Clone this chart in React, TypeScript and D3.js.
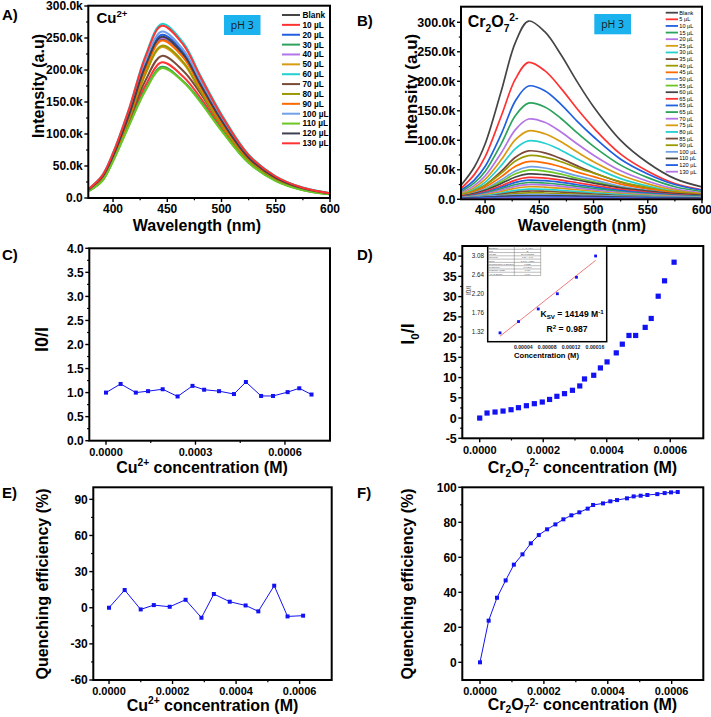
import React from 'react';
import * as d3 from 'd3';

const FONT = "'Liberation Sans', Arial, Helvetica, sans-serif";
const BLUE = '#1212f2';

// ---------------- Panel A : Cu2+ spectra ----------------
const wavelengthsA = [378, 390, 400, 415, 430, 445, 465, 480, 500, 525, 550, 575, 600];
const labelsA = ['Blank', '10 µL', '20 µL', '30 µL', '40 µL', '50 µL', '60 µL', '70 µL', '80 µL', '90 µL', '100 µL', '110 µL', '120 µL', '130 µL'];
const colorsA = ['#454545', '#ff3333', '#1f5fe0', '#2ba35c', '#b374e6', '#d99b12', '#22d0d0', '#7a4a3a', '#9a9a00', '#ff6a00', '#6fa0e8', '#6cc624', '#3f4050', '#ff3333'];
// intensities in thousands (k)
const spectraA = [
  [13.6, 32.2, 64.5, 129, 203, 248, 221, 176, 119, 62, 31, 14.9, 6.9],
  [11.7, 27.6, 60, 118, 176, 212, 189, 158, 110, 57, 28, 12.7, 5.9],
  [14.0, 33.2, 66.3, 133, 209, 255, 227, 181, 122, 64, 32, 15.3, 7.1],
  [11.3, 26.7, 58, 115, 170, 205, 182, 153, 106, 55, 27, 12.3, 5.7],
  [13.8, 32.5, 65, 130, 205, 250, 223, 178, 120, 62.5, 31.3, 15, 7],
  [13, 30.7, 61.4, 123, 194, 236, 210, 168, 113, 59, 29.5, 14.2, 6.6],
  [15, 35.4, 70.7, 141, 223, 272, 242, 193, 131, 68, 34, 16.3, 7.6],
  [12.2, 28.9, 62, 122, 184, 222, 198, 165, 114, 59, 29, 13.3, 6.2],
  [13.1, 30.9, 61.9, 124, 195, 238, 212, 169, 114, 59.5, 29.8, 14.3, 6.7],
  [13.5, 32, 64, 128, 202, 246, 219, 175, 118, 61.5, 30.8, 14.8, 6.9],
  [14.3, 33.8, 67.6, 135, 213, 260, 231, 185, 125, 65, 32.5, 15.6, 7.3],
  [11.2, 26.4, 57.5, 114, 168, 203, 181, 151, 105, 55, 26.5, 12.2, 5.7],
  [13.9, 32.8, 65.5, 131, 207, 252, 224, 179, 121, 63, 31.5, 15.1, 7.1],
  [14.8, 35, 70, 140, 221, 269, 239, 191, 129, 67, 33.6, 16.1, 7.5],
];

// ---------------- Panel B : Cr2O7 2- spectra ----------------
const wavelengthsB = [378, 390, 400, 415, 428, 440, 455, 470, 485, 500, 525, 550, 575, 600];
const labelsB = ['Blank', '5 µL', '10 µL', '15 µL', '20 µL', '25 µL', '30 µL', '35 µL', '40 µL', '45 µL', '50 µL', '55 µL', '60 µL', '65 µL', '65 µL', '65 µL', '70 µL', '75 µL', '80 µL', '85 µL', '90 µL', '100 µL', '110 µL', '120 µL', '130 µL'];
const colorsB = ['#454545', '#ff3333', '#1f5fe0', '#2ba35c', '#b374e6', '#d99b12', '#22d0d0', '#7a4a3a', '#9a9a00', '#ff6a00', '#6fa0e8', '#6cc624', '#454545', '#ff3333', '#1f5fe0', '#2ba35c', '#b374e6', '#d99b12', '#22d0d0', '#7a4a3a', '#9a9a00', '#6fa0e8', '#454545', '#1f5fe0', '#b374e6'];
const spectraB = [
  [24.2, 54.4, 93.6, 184, 266, 302, 284, 245, 199, 157, 100, 62, 35, 21],
  [18.6, 41.8, 71.9, 141.5, 204, 232, 218, 188, 153, 121, 76.6, 47.6, 26.7, 16.2],
  [15.4, 32.6, 55.7, 111, 167, 192, 184, 161, 132, 106, 68, 43, 25, 15.4],
  [13, 27.7, 47.3, 94.5, 142, 163, 156.5, 137, 112.5, 89.7, 57.9, 36.7, 21.2, 13],
  [10.9, 23.1, 39.4, 78.9, 118, 136, 130.6, 114, 93.8, 74.8, 48.3, 30.6, 17.7, 10.9],
  [9.3, 19.7, 33.6, 67.3, 101, 116, 111, 97.4, 80, 63.8, 41.2, 26.1, 15.1, 9.3],
  [7.9, 16.8, 28.7, 57.4, 86, 99, 95, 83.2, 68.3, 54.5, 35.1, 22.3, 12.9, 7.9],
  [6.6, 13.9, 23.8, 47.6, 71.3, 82, 78.7, 68.9, 56.6, 45.1, 29.1, 18.5, 10.7, 6.6],
  [7.4, 14.8, 23.7, 44.4, 64.8, 74, 71.4, 63.6, 53.3, 44.4, 29.6, 20, 12.6, 8.9],
  [6.4, 12.8, 20.5, 38.4, 56, 64, 61.8, 55, 46.1, 38.4, 25.6, 17.3, 10.9, 7.7],
  [5.5, 11, 17.6, 33, 48.1, 55, 53.1, 47.3, 39.6, 33, 22, 14.9, 9.4, 6.6],
  [5, 9.9, 15.8, 29.7, 43.3, 49.5, 47.8, 42.6, 35.6, 29.7, 19.8, 13.4, 8.4, 5.9],
  [5.2, 9.5, 15.1, 26.7, 37.8, 43, 41.7, 37.8, 32.7, 27.5, 19.4, 13.8, 9.5, 6.9],
  [4.4, 8.1, 13, 22.9, 32.6, 37, 35.9, 32.6, 28.1, 23.7, 16.7, 11.8, 8.1, 5.9],
  [3.9, 7.2, 11.4, 20.2, 28.6, 32.5, 31.5, 28.6, 24.7, 20.8, 14.6, 10.4, 7.2, 5.2],
  [3.4, 6.3, 10, 17.7, 25.1, 28.5, 27.6, 25.1, 21.7, 18.2, 12.8, 9.1, 6.3, 4.6],
  [3, 5.5, 8.8, 15.5, 22, 25, 24.3, 22, 19, 16, 11.3, 8, 5.5, 4],
  [2.6, 4.7, 7.5, 13.2, 18.7, 21.3, 20.7, 18.7, 16.2, 13.6, 9.6, 6.8, 4.7, 3.4],
  [2.1, 3.8, 6.1, 10.7, 15.2, 17.3, 16.8, 15.2, 13.1, 11.1, 7.8, 5.5, 3.8, 2.8],
  [1.7, 3.1, 4.9, 8.7, 12.3, 14, 13.6, 12.3, 10.6, 9, 6.3, 4.5, 3.1, 2.2],
  [1.3, 2.4, 3.9, 6.8, 9.7, 11, 10.7, 9.7, 8.4, 7, 5, 3.5, 2.4, 1.8],
  [2.4, 3.6, 4.8, 6.4, 7.6, 8, 8, 7.6, 7, 6.4, 5.2, 4.2, 3.4, 2.8],
  [1.8, 2.7, 3.6, 4.8, 5.7, 6, 6, 5.7, 5.3, 4.8, 3.9, 3.1, 2.5, 2.1],
  [1.1, 1.7, 2.3, 3, 3.6, 3.8, 3.8, 3.6, 3.3, 3, 2.5, 2, 1.6, 1.3],
  [0.5, 0.8, 1.1, 1.4, 1.7, 1.8, 1.8, 1.7, 1.6, 1.4, 1.2, 0.9, 0.8, 0.6],
];
const spectraTicksX = [400, 450, 500, 550, 600];
const spectraMinorX = [425, 475, 525, 575];
const spectraTicksY = [0, 50000, 100000, 150000, 200000, 250000, 300000];
const spectraMinorY = [25000, 75000, 125000, 175000, 225000, 275000];

// ---------------- Panel C : Cu2+ I0/I ----------------
const concC = [0, 0.000049, 0.0001, 0.000141, 0.00019, 0.00024, 0.00029, 0.000329, 0.000379, 0.000429, 0.000469, 0.00052, 0.00056, 0.000609, 0.000648, 0.000689];
const ratioC = [1.0, 1.18, 1.0, 1.03, 1.07, 0.92, 1.14, 1.06, 1.03, 0.97, 1.22, 0.93, 0.93, 1.01, 1.09, 0.96];
const ticksCX = [0, 0.0003, 0.0006];
const minorCX = [0.00015, 0.00045];
const ticksCY = [0, 0.5, 1, 1.5, 2, 2.5, 3, 3.5, 4];
const minorCY = [0.25, 0.75, 1.25, 1.75, 2.25, 2.75, 3.25, 3.75];

// ---------------- Panel D : Cr2O7 I0/I ----------------
const concD = [0, 0.0000231, 0.0000483, 0.0000735, 0.0000987, 0.000122, 0.000147, 0.000172, 0.000197, 0.00022, 0.000243, 0.000267, 0.000292, 0.000315, 0.00033, 0.000359, 0.00038, 0.000401, 0.00043, 0.000449, 0.00047, 0.000491, 0.000521, 0.00054, 0.000562, 0.000582, 0.000612];
const ratioD = [0, 1.24, 1.49, 1.73, 2.06, 2.56, 3.05, 3.55, 3.96, 4.6, 5.37, 6.03, 6.86, 7.93, 9.66, 10.57, 12.38, 13.87, 16.1, 18.25, 20.4, 20.4, 22.4, 24.6, 30.1, 33.9, 38.5];
const ticksDX = [0, 0.0002, 0.0004, 0.0006];
const minorDX = [0.0001, 0.0003, 0.0005];
const ticksDY = [-5, 0, 5, 10, 15, 20, 25, 30, 35, 40];
const minorDY = [-2.5, 2.5, 7.5, 12.5, 17.5, 22.5, 27.5, 32.5, 37.5];

// inset (Stern-Volmer linear part)
const insetConc = [0.000001, 0.000032, 0.000065, 0.000097, 0.000129, 0.000161];
const insetRatio = [1.30, 1.56, 1.85, 2.20, 2.58, 3.07];
const insetTicksX = [0.00004, 0.00008, 0.00012, 0.00016];
const insetTicksY = [1.32, 1.76, 2.20, 2.64, 3.08];
const insetTable = [
  ['Equation', 'y = a + b*x'], ['Plot', 'B'], ['Weight', 'No Weighting'], ['Intercept', '1.21 ± 0.06'],
  ['Slope', '14149 ± 1270'], ['Residual Sum of Squares', '0.0258'], ["Pearson's r", '0.99348'],
  ['R-Square (COD)', '0.987'], ['Adj. R-Square', '0.984'],
];

// ---------------- Panel E : Cu2+ quenching efficiency ----------------
const concE = [0, 0.0000493, 0.0000997, 0.000141, 0.000191, 0.000241, 0.000291, 0.00033, 0.00038, 0.00043, 0.00047, 0.00052, 0.000562, 0.000611];
const qeE = [0, 14.7, -1.4, 2.2, 0.8, 6.6, -8.3, 11.4, 5.0, 1.9, -3.0, 18.3, -7.2, -6.6];
const ticksEY = [-60, -30, 0, 30, 60, 90];
const minorEY = [-45, -15, 15, 45, 75];

// ---------------- Panel F : Cr2O7 quenching efficiency ----------------
const concF = [0, 0.0000271, 0.0000532, 0.0000803, 0.000106, 0.000133, 0.000159, 0.000184, 0.00021, 0.000236, 0.000261, 0.000286, 0.000311, 0.000337, 0.000354, 0.000385, 0.000408, 0.000429, 0.00046, 0.000481, 0.000503, 0.000524, 0.000555, 0.000578, 0.000598, 0.000619];
const qeF = [0, 23.8, 36.9, 46.8, 55.8, 61.7, 68, 72.7, 76, 78.8, 81.7, 84, 85.7, 87.8, 89.9, 90.8, 92, 92.7, 93.7, 94.8, 95.2, 95.6, 96.1, 96.7, 97.1, 97.3];
const ticksFY = [0, 20, 40, 60, 80, 100];
const minorFY = [10, 30, 50, 70, 90];

type Box = { l: number; r: number; t: number; b: number };
type Part = [string, 'n' | 'sub' | 'sup'];

function rich(parts: Part[], fs: number, subShift = 0.3, supShift = 0.38) {
  let cur = 0;
  return parts.map(([t, k], i) => {
    const target = k === 'sup' ? -fs * supShift : k === 'sub' ? fs * subShift : 0;
    const dy = target - cur;
    cur = target;
    return (
      <tspan key={i} dy={dy} fontSize={k === 'n' ? fs : fs * 0.64}>
        {t}
      </tspan>
    );
  });
}

const cuParts: Part[] = [['Cu', 'n'], ['2+', 'sup'], [' concentration (M)', 'n']];
const crParts: Part[] = [['Cr', 'n'], ['2', 'sub'], ['O', 'n'], ['7', 'sub'], ['2-', 'sup'], [' concentration (M)', 'n']];

function Axes(props: {
  box: Box; x: any; y: any; xMajor: number[]; xMinor: number[]; yMajor: number[]; yMinor: number[];
  xFmt: (v: number) => string; yFmt: (v: number) => string; xfs: number; yfs: number; xOff?: number;
}) {
  const { box, x, y, xMajor, xMinor, yMajor, yMinor, xFmt, yFmt, xfs, yfs } = props;
  const xOff = props.xOff ?? 15.3;
  return (
    <g>
      {yMajor.map((v) => (
        <g key={'ym' + v}>
          <line x1={box.l - 4} x2={box.l} y1={y(v)} y2={y(v)} stroke="#000" strokeWidth={1.4} />
          <text x={box.l - 5.5} y={y(v)} dy="0.36em" textAnchor="end" fontSize={yfs} fontWeight="bold">
            {yFmt(v)}
          </text>
        </g>
      ))}
      {yMinor.map((v) => (
        <line key={'yn' + v} x1={box.l - 2.2} x2={box.l} y1={y(v)} y2={y(v)} stroke="#000" strokeWidth={1.2} />
      ))}
      {xMajor.map((v) => (
        <g key={'xm' + v}>
          <line x1={x(v)} x2={x(v)} y1={box.b} y2={box.b + 4} stroke="#000" strokeWidth={1.4} />
          <text x={x(v)} y={box.b + xOff} textAnchor="middle" fontSize={xfs} fontWeight="bold">
            {xFmt(v)}
          </text>
        </g>
      ))}
      {xMinor.map((v) => (
        <line key={'xn' + v} x1={x(v)} x2={x(v)} y1={box.b} y2={box.b + 2.2} stroke="#000" strokeWidth={1.2} />
      ))}
      <rect x={box.l} y={box.t} width={box.r - box.l} height={box.b - box.t} fill="none" stroke="#000" strokeWidth={2} />
    </g>
  );
}

function YLabel({ x, y, fs, children }: { x: number; y: number; fs: number; children: any }) {
  return (
    <text transform={`translate(${x},${y}) rotate(-90)`} textAnchor="middle" fontSize={fs} fontWeight="bold">
      {children}
    </text>
  );
}

const kFmt = (v: number) => (v === 0 ? '0.0' : (v / 1000).toFixed(1) + 'k');

export default function App() {
  // ---- A ----
  const boxA: Box = { l: 88.3, r: 330, t: 5.7, b: 198 };
  const xA = d3.scaleLinear().domain([377.2, 600]).range([boxA.l, boxA.r]);
  const yA = d3.scaleLinear().domain([0, 300000]).range([198, 6]);
  const lineA = d3.line<number>().x((_, i) => xA(wavelengthsA[i])).y((d) => yA(d * 1000)).curve(d3.curveCatmullRom.alpha(0.5));

  // ---- B ----
  const boxB: Box = { l: 461, r: 702, t: 6.7, b: 199.3 };
  const xB = d3.scaleLinear().domain([377.8, 600]).range([boxB.l, boxB.r]);
  const yB = d3.scaleLinear().domain([0, 326400]).range([boxB.b, boxB.t]);
  const lineB = d3.line<number>().x((_, i) => xB(wavelengthsB[i])).y((d) => yB(d * 1000)).curve(d3.curveCatmullRom.alpha(0.5));

  // ---- C ----
  const boxC: Box = { l: 89.3, r: 330, t: 248.3, b: 440.7 };
  const xC = d3.scaleLinear().domain([-0.000056, 0.000751]).range([boxC.l, boxC.r]);
  const yC = d3.scaleLinear().domain([0, 4]).range([boxC.b, boxC.t]);
  const lineC = d3.line<number>().x((_, i) => xC(concC[i])).y((d) => yC(d));

  // ---- D ----
  const boxD: Box = { l: 462.3, r: 703.3, t: 246, b: 438.3 };
  const xD = d3.scaleLinear().domain([-0.0000548, 0.000704]).range([boxD.l, boxD.r]);
  const yD = d3.scaleLinear().domain([-5, 42.5]).range([boxD.b, boxD.t]);

  // inset
  const boxI: Box = { l: 487.7, r: 606.7, t: 246, b: 341.7 };
  const xI = d3.scaleLinear().domain([-0.0000196, 0.0001796]).range([boxI.l, boxI.r]);
  const yI = d3.scaleLinear().domain([1.096, 3.3]).range([boxI.b, boxI.t]);
  const mx = d3.mean(insetConc) as number;
  const my = d3.mean(insetRatio) as number;
  const sxy = d3.sum(insetConc.map((c, i) => (c - mx) * (insetRatio[i] - my)));
  const sxx = d3.sum(insetConc.map((c) => (c - mx) * (c - mx)));
  const slope = sxy / sxx;
  const icpt = my - slope * mx;
  const fitX = [insetConc[0], insetConc[insetConc.length - 1]];

  // ---- E ----
  const boxE: Box = { l: 93.3, r: 331.7, t: 487.3, b: 680 };
  const xE = d3.scaleLinear().domain([-0.0000495, 0.000701]).range([boxE.l, boxE.r]);
  const yE = d3.scaleLinear().domain([-60, 100]).range([boxE.b, boxE.t]);
  const lineE = d3.line<number>().x((_, i) => xE(concE[i])).y((d) => yE(d));

  // ---- F ----
  const boxF: Box = { l: 462.3, r: 703.3, t: 487.3, b: 680 };
  const xF = d3.scaleLinear().domain([-0.0000554, 0.000699]).range([boxF.l, boxF.r]);
  const yF = d3.scaleLinear().domain([-10.1, 100]).range([boxF.b, boxF.t]);
  const lineF = d3.line<number>().x((_, i) => xF(concF[i])).y((d) => yF(d));

  const f4 = (v: number) => v.toFixed(4);

  return (
    <svg width={711} height={717} style={{ position: 'absolute', left: 0, top: 0, background: '#fff' }} fontFamily={FONT}>
      <defs>
        <clipPath id="clipA"><rect x={boxA.l} y={boxA.t} width={boxA.r - boxA.l} height={boxA.b - boxA.t} /></clipPath>
        <clipPath id="clipB"><rect x={boxB.l} y={boxB.t} width={boxB.r - boxB.l} height={boxB.b - boxB.t} /></clipPath>
      </defs>
      <rect x={0} y={0} width={711} height={717} fill="#fff" />

      {/* ================= A ================= */}
      <g clipPath="url(#clipA)">
        {spectraA.map((s, i) => (
          <path key={i} d={lineA(s) || ''} fill="none" stroke={colorsA[i]} strokeWidth={2} />
        ))}
      </g>
      <Axes box={boxA} x={xA} y={yA} xMajor={spectraTicksX} xMinor={spectraMinorX} yMajor={spectraTicksY} yMinor={spectraMinorY}
        xFmt={(v) => String(v)} yFmt={kFmt} xfs={12} yfs={12} xOff={14.8} />
      <text x={2} y={20} fontSize={15} fontWeight="bold">A)</text>
      <text x={96.5} y={22.7} fontSize={15} fontWeight="bold">{rich([['Cu', 'n'], ['2+', 'sup']], 15)}</text>
      <rect x={224} y={15} width={36.5} height={20} fill="#1cb2ee" />
      <text x={242.2} y={28.8} fontSize={10.5} textAnchor="middle" fill="#1a1a1a" fontFamily="'Open Sans', 'Liberation Sans', sans-serif">pH 3</text>
      {labelsA.map((lab, i) => (
        <g key={lab + i}>
          <line x1={282} x2={300} y1={15 + i * 9.87} y2={15 + i * 9.87} stroke={colorsA[i]} strokeWidth={2} />
          <text x={302.5} y={15 + i * 9.87} dy="0.35em" fontSize={8.3} fontWeight="bold">{lab}</text>
        </g>
      ))}
      <YLabel x={43.5} y={86} fs={16}>Intensity (a.u)</YLabel>
      <text x={197} y={230.5} textAnchor="middle" fontSize={16} fontWeight="bold">Wavelength (nm)</text>

      {/* ================= B ================= */}
      <g clipPath="url(#clipB)">
        {spectraB.map((s, i) => (
          <path key={i} d={lineB(s) || ''} fill="none" stroke={colorsB[i]} strokeWidth={1.7} />
        ))}
      </g>
      <Axes box={boxB} x={xB} y={yB} xMajor={spectraTicksX} xMinor={spectraMinorX} yMajor={spectraTicksY} yMinor={spectraMinorY}
        xFmt={(v) => String(v)} yFmt={kFmt} xfs={12} yfs={12.5} xOff={14.2} />
      <text x={357} y={25.5} fontSize={15} fontWeight="bold">B)</text>
      <text x={467.7} y={26.7} fontSize={16} fontWeight="bold">{rich([['Cr', 'n'], ['2', 'sub'], ['O', 'n'], ['7', 'sub'], ['2-', 'sup']], 16)}</text>
      <rect x={594.3} y={14} width={36.7} height={20.3} fill="#1cb2ee" />
      <text x={612.6} y={28} fontSize={10.5} textAnchor="middle" fill="#1a1a1a" fontFamily="'Open Sans', 'Liberation Sans', sans-serif">pH 3</text>
      {labelsB.map((lab, i) => (
        <g key={lab + i}>
          <line x1={665.7} x2={678} y1={12.7 + i * 6.625} y2={12.7 + i * 6.625} stroke={colorsB[i]} strokeWidth={1.8} />
          <text x={679.3} y={12.7 + i * 6.625} dy="0.35em" fontSize={5.6}>{lab}</text>
        </g>
      ))}
      <YLabel x={416.5} y={89} fs={17}>Intensity (a.u)</YLabel>
      <text x={582} y={231} textAnchor="middle" fontSize={16} fontWeight="bold">Wavelength (nm)</text>

      {/* ================= C ================= */}
      <path d={lineC(ratioC) || ''} fill="none" stroke={BLUE} strokeWidth={1} />
      {ratioC.map((v, i) => (
        <rect key={i} x={xC(concC[i]) - 2} y={yC(v) - 2} width={4} height={4} fill={BLUE} />
      ))}
      <Axes box={boxC} x={xC} y={yC} xMajor={ticksCX} xMinor={minorCX} yMajor={ticksCY} yMinor={minorCY}
        xFmt={f4} yFmt={(v) => v.toFixed(1)} xfs={11} yfs={12} />
      <text x={2} y={260} fontSize={15} fontWeight="bold">C)</text>
      <YLabel x={48} y={339.5} fs={18}>I0/I</YLabel>
      <text x={202} y={472.5} textAnchor="middle" fontSize={16} fontWeight="bold">{rich(cuParts, 16)}</text>

      {/* ================= D ================= */}
      {ratioD.map((v, i) => (
        <rect key={i} x={xD(concD[i]) - 2.6} y={yD(v) - 2.6} width={5.2} height={5.2} fill={BLUE} />
      ))}
      <Axes box={boxD} x={xD} y={yD} xMajor={ticksDX} xMinor={minorDX} yMajor={ticksDY} yMinor={minorDY}
        xFmt={f4} yFmt={(v) => String(v)} xfs={11} yfs={12.5} />
      {/* inset */}
      <rect x={boxI.l} y={boxI.t} width={boxI.r - boxI.l} height={boxI.b - boxI.t} fill="#fff" stroke="#000" strokeWidth={1.5} />
      <line x1={xI(fitX[0])} x2={xI(fitX[1])} y1={yI(icpt + slope * fitX[0])} y2={yI(icpt + slope * fitX[1])} stroke="#f07a7a" strokeWidth={1} />
      {insetRatio.map((v, i) => (
        <rect key={i} x={xI(insetConc[i]) - 1.4} y={yI(v) - 1.4} width={2.8} height={2.8} fill={BLUE} />
      ))}
      {insetTicksY.map((v) => (
        <text key={v} x={484} y={yI(v)} dy="0.35em" textAnchor="end" fontSize={6.3} fill="#222">{v.toFixed(2)}</text>
      ))}
      {insetTicksX.map((v) => (
        <text key={v} x={xI(v)} y={349} textAnchor="middle" fontSize={5.2} fontWeight="bold" fill="#222">{v.toFixed(5)}</text>
      ))}
      <text transform="translate(470.5,290.5) rotate(-90)" textAnchor="middle" fontSize={6.5} fill="#222">I0/I</text>
      <text x={546.5} y={357.5} textAnchor="middle" fontSize={7.6} fontWeight="bold">Concentration (M)</text>
      <g>
        {insetTable.map((row, i) => {
          const ty = 246 + i * 3.28;
          return (
            <g key={i}>
              <line x1={488.3} x2={540.7} y1={ty + 3.28} y2={ty + 3.28} stroke="#555" strokeWidth={0.4} />
              <text x={489} y={ty + 2.5} fontSize={2.2} fill="#444">{row[0]}</text>
              <text x={527.5} y={ty + 2.5} fontSize={2.2} fill="#444" textAnchor="middle">{row[1]}</text>
            </g>
          );
        })}
        <line x1={514.3} x2={514.3} y1={246} y2={275.5} stroke="#555" strokeWidth={0.4} />
        <line x1={540.7} x2={540.7} y1={246} y2={275.5} stroke="#555" strokeWidth={0.4} />
      </g>
      <text x={540.5} y={317.2} fontSize={8.6} fontWeight="bold">
        <tspan>K</tspan>
        <tspan dy={1.8} fontSize={6.2}>SV</tspan>
        <tspan dy={-1.8}> = 14149 M</tspan>
        <tspan dy={-3.5} fontSize={6.2}>-1</tspan>
      </text>
      <text x={567} y={332.2} textAnchor="middle" fontSize={8.6} fontWeight="bold">
        <tspan>R</tspan>
        <tspan dy={-3.5} fontSize={6.2}>2</tspan>
        <tspan dy={3.5}> = 0.987</tspan>
      </text>
      <text x={357} y={260} fontSize={15} fontWeight="bold">D)</text>
      <YLabel x={413.5} y={334} fs={18}>{rich([['I', 'n'], ['0', 'sub'], ['/I', 'n']], 18)}</YLabel>
      <text x={582.5} y={472.5} textAnchor="middle" fontSize={16} fontWeight="bold">{rich(crParts, 16)}</text>

      {/* ================= E ================= */}
      <path d={lineE(qeE) || ''} fill="none" stroke={BLUE} strokeWidth={1} />
      {qeE.map((v, i) => (
        <rect key={i} x={xE(concE[i]) - 2} y={yE(v) - 2} width={4} height={4} fill={BLUE} />
      ))}
      <Axes box={boxE} x={xE} y={yE} xMajor={ticksDX} xMinor={minorDX} yMajor={ticksEY} yMinor={minorEY}
        xFmt={f4} yFmt={(v) => String(v)} xfs={11} yfs={12} />
      <text x={2} y={498} fontSize={15} fontWeight="bold">E)</text>
      <YLabel x={48.2} y={584} fs={16}>Quenching efficiency (%)</YLabel>
      <text x={212.5} y={710.5} textAnchor="middle" fontSize={16} fontWeight="bold">{rich(cuParts, 16)}</text>

      {/* ================= F ================= */}
      <path d={lineF(qeF) || ''} fill="none" stroke={BLUE} strokeWidth={1} />
      {qeF.map((v, i) => (
        <rect key={i} x={xF(concF[i]) - 2} y={yF(v) - 2} width={4} height={4} fill={BLUE} />
      ))}
      <Axes box={boxF} x={xF} y={yF} xMajor={ticksDX} xMinor={minorDX} yMajor={ticksFY} yMinor={minorFY}
        xFmt={f4} yFmt={(v) => String(v)} xfs={11} yfs={12} xOff={14.5} />
      <text x={357} y={498} fontSize={15} fontWeight="bold">F)</text>
      <YLabel x={413} y={584} fs={16}>Quenching efficiency (%)</YLabel>
      <text x={582.5} y={710} textAnchor="middle" fontSize={16} fontWeight="bold">{rich(crParts, 16, 0.2, 0.28)}</text>
    </svg>
  );
}
